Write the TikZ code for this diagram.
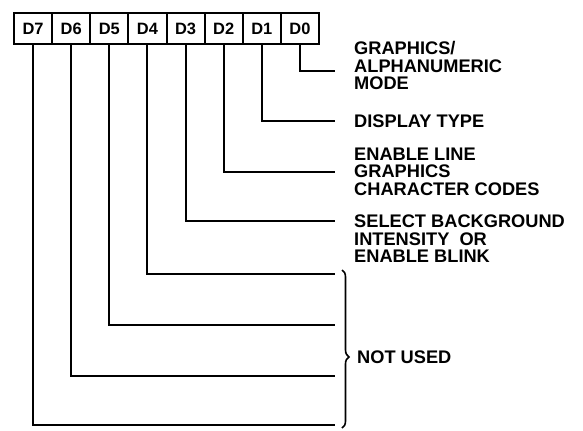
\documentclass[tikz,border=0pt]{standalone}
\usepackage{fontspec}
\setmainfont{Liberation Sans}
\usetikzlibrary{decorations.pathreplacing}
\begin{document}
\begin{tikzpicture}[x=1bp,y=-1bp,
  bitbox/.style={draw, line width=2bp, minimum width=38.125bp, minimum height=31bp, inner sep=0pt, anchor=north west, font=\fontsize{16.5}{18}\selectfont\bfseries},
  lbl/.style={anchor=base west, align=left, inner sep=0pt, font=\fontsize{18.3}{17.5}\selectfont\bfseries},
  wire/.style={line width=2bp, line cap=rect},
  bracestyle/.style={line width=1.6bp, decorate, decoration={brace, amplitude=7bp, aspect=0.55}}]
\useasboundingbox (0,0) rectangle (583,430);
\foreach \i in {0,...,7}{
  \pgfmathtruncatemacro\b{7-\i}
  \node[bitbox] (d\b) at ({13+38.125*\i},12) {D\b};
}
\coordinate (e0) at (334,71);
\coordinate (e1) at (334,121);
\coordinate (e2) at (334,172);
\coordinate (e3) at (334,221);
\coordinate (e4) at (334,274);
\coordinate (e5) at (334,325);
\coordinate (e6) at (334,376);
\coordinate (e7) at (334,425);
\foreach \b in {0,...,7}{
  \draw[wire] (d\b.south) |- (e\b);
}
% base anchor of a multi-line node = baseline of its last line
\node[lbl] (t0) at (354,89.5) {GRAPHICS/\\ALPHANUMERIC\\MODE};
\node[lbl] (t1) at (354,127.5) {DISPLAY TYPE};
\node[lbl] (t2) at (354,195) {ENABLE LINE\\GRAPHICS\\CHARACTER CODES};
\node[lbl] (t3) at (354,262.5) {SELECT BACKGROUND\\INTENSITY\ \ OR\\ENABLE BLINK};
\coordinate (bt) at (342,270);
\coordinate (bb) at (342,428);
\draw[bracestyle] (bt) -- (bb);
\node[lbl] (t4) at (357,363.5) {NOT USED};
\end{tikzpicture}
\end{document}
